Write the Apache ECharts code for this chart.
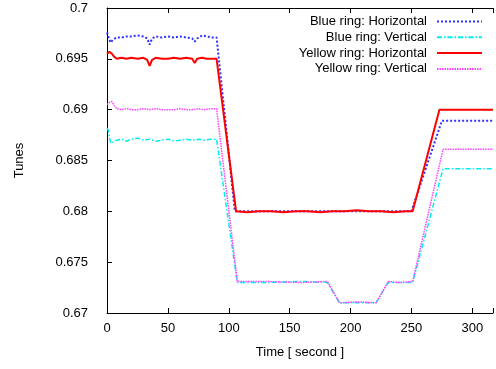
<!DOCTYPE html>
<html>
<head>
<meta charset="utf-8">
<script src="https://cdn.jsdelivr.net/npm/echarts@6/dist/echarts.min.js"></script>
<style>
  html, body { margin: 0; padding: 0; background: #fff; }
  #chart { width: 496px; height: 369px; }
</style>
</head>
<body>
<div id="chart"></div>
<script>
// Blue ring, horizontal tune
const blueHTime = [0, 1, 3, 5, 8, 12, 16, 20, 25, 30, 33, 35, 37, 40, 45, 50, 55, 60, 65, 70, 72, 74, 78, 82, 86, 90, 105, 150, 200, 250, 275, 317];
const blueHValue = [0.6976, 0.6972, 0.6966, 0.6969, 0.6971, 0.6971, 0.6972, 0.6972, 0.6973, 0.6972, 0.6970, 0.6964, 0.6970, 0.6972, 0.6971, 0.6972, 0.6971, 0.6972, 0.6971, 0.6970, 0.6967, 0.6970, 0.6973, 0.6972, 0.6971, 0.6971, 0.6800, 0.6800, 0.6800, 0.6800, 0.6889, 0.6889];

// Blue ring, vertical tune
const blueVTime = [0, 1, 3, 5, 8, 12, 16, 20, 25, 30, 35, 40, 45, 50, 55, 60, 65, 70, 75, 80, 85, 90, 107, 130, 160, 181, 191, 205, 221, 231, 240, 251, 276, 317];
const blueVValue = [0.6882, 0.6880, 0.6867, 0.6868, 0.6870, 0.6871, 0.6869, 0.6871, 0.6872, 0.6870, 0.6871, 0.6869, 0.6870, 0.6871, 0.6869, 0.6870, 0.6871, 0.6870, 0.6871, 0.6870, 0.6871, 0.6871, 0.6730, 0.6730, 0.6731, 0.6730, 0.6710, 0.6710, 0.6710, 0.6730, 0.6730, 0.6730, 0.6842, 0.6842];

// Yellow ring, horizontal tune
const yellowHTime = [0, 2, 4, 6, 8, 12, 16, 20, 25, 30, 33, 35, 37, 40, 45, 50, 55, 60, 65, 70, 72, 74, 78, 82, 86, 90, 106, 115, 125, 135, 145, 155, 165, 175, 185, 195, 205, 215, 225, 235, 245, 251, 273, 317];
const yellowHValue = [0.6955, 0.6957, 0.6955, 0.6952, 0.6950, 0.6951, 0.6950, 0.6951, 0.6950, 0.6951, 0.6949, 0.6943, 0.6949, 0.6951, 0.6950, 0.6950, 0.6951, 0.6950, 0.6951, 0.6950, 0.6946, 0.6950, 0.6951, 0.6950, 0.6950, 0.6950, 0.6800, 0.6799, 0.6800, 0.6800, 0.6799, 0.6800, 0.6800, 0.6799, 0.6800, 0.6800, 0.6801, 0.6800, 0.6800, 0.6799, 0.6800, 0.6800, 0.6900, 0.6900];

// Yellow ring, vertical tune
const yellowVTime = [0, 2, 4, 6, 8, 12, 16, 20, 25, 30, 35, 40, 45, 50, 55, 60, 65, 70, 75, 80, 85, 90, 107, 130, 160, 181, 191, 205, 221, 231, 240, 251, 276, 317];
const yellowVValue = [0.6905, 0.6907, 0.6908, 0.6904, 0.6901, 0.6900, 0.6901, 0.6900, 0.6900, 0.6901, 0.6900, 0.6901, 0.6900, 0.6900, 0.6900, 0.6901, 0.6900, 0.6900, 0.6901, 0.6900, 0.6901, 0.6901, 0.6731, 0.6731, 0.6730, 0.6731, 0.6710, 0.6711, 0.6710, 0.6731, 0.6730, 0.6731, 0.6861, 0.6861];

const seriesNames = ["Blue ring: Horizontal", "Blue ring: Vertical", "Yellow ring: Horizontal", "Yellow ring: Vertical"];

const xMin = 0, xMax = 317, xStep = 50;
const yMin = 0.67, yMax = 0.7, yStep = 0.005;

const pairs = (t, v) => t.map((x, i) => [x, v[i]]);

const font = "Liberation Sans, Arial, sans-serif";
const chart = echarts.init(document.getElementById("chart"));

const xAxisBase = {
  type: "value",
  min: xMin,
  max: xMax,
  interval: xStep,
  splitLine: { show: false },
  axisLine: { show: true, lineStyle: { color: "#000", width: 1 } },
  axisTick: { show: true, inside: true, length: 5, lineStyle: { color: "#000" } },
};

chart.setOption({
  animation: false,
  backgroundColor: "#fff",
  textStyle: { fontFamily: font },
  grid: { left: 107, right: -1, top: 8, bottom: 56 },
  legend: {
    orient: "vertical",
    right: 8,
    top: 10,
    align: "right",
    itemWidth: 45,
    itemHeight: 14,
    itemGap: 2.8,
    itemStyle: { opacity: 0 }, // line only, no marker in the key
    textStyle: { fontSize: 13, color: "#000", fontFamily: font, padding: [0, 5, 0, 0] },
    data: seriesNames,
  },
  xAxis: [
    {
      ...xAxisBase,
      position: "bottom",
      name: "Time [ second ]",
      nameLocation: "middle",
      nameGap: 33,
      nameTextStyle: { fontSize: 13, color: "#000", fontFamily: font },
      axisLabel: {
        color: "#000",
        fontSize: 13,
        margin: 9,
        fontFamily: font,
        formatter: (v) => (v % xStep === 0 ? String(v) : ""),
      },
    },
    {
      ...xAxisBase,
      position: "top",
      axisLabel: { show: false },
    },
  ],
  yAxis: {
    type: "value",
    min: yMin,
    max: yMax,
    interval: yStep,
    name: "Tunes",
    nameLocation: "middle",
    nameGap: 81,
    nameTextStyle: { fontSize: 13, color: "#000", fontFamily: font },
    splitLine: { show: false },
    axisLine: { show: true, lineStyle: { color: "#000", width: 1 } },
    axisTick: { show: true, inside: true, length: 5, lineStyle: { color: "#000" } },
    axisLabel: {
      color: "#000",
      fontSize: 13,
      margin: 19,
      fontFamily: font,
      formatter: (v) => String(+v.toFixed(3)),
    },
  },
  series: [
    {
      name: seriesNames[0],
      type: "line",
      showSymbol: false,
      symbol: "none",
      data: pairs(blueHTime, blueHValue),
      lineStyle: { color: "#3030ff", width: 2, type: [2, 2] },
      itemStyle: { color: "#3030ff" },
    },
    {
      name: seriesNames[1],
      type: "line",
      showSymbol: false,
      symbol: "none",
      data: pairs(blueVTime, blueVValue),
      lineStyle: { color: "#00eef0", width: 1.5, type: [5, 2, 1.5, 2] },
      itemStyle: { color: "#00eef0" },
    },
    {
      name: seriesNames[2],
      type: "line",
      showSymbol: false,
      symbol: "none",
      data: pairs(yellowHTime, yellowHValue),
      lineStyle: { color: "#ff0000", width: 2, type: "solid" },
      itemStyle: { color: "#ff0000" },
    },
    {
      name: seriesNames[3],
      type: "line",
      showSymbol: false,
      symbol: "none",
      data: pairs(yellowVTime, yellowVValue),
      lineStyle: { color: "#ff40ff", width: 1.5, type: [1.5, 1] },
      itemStyle: { color: "#ff40ff" },
    },
  ],
});
</script>
</body>
</html>
